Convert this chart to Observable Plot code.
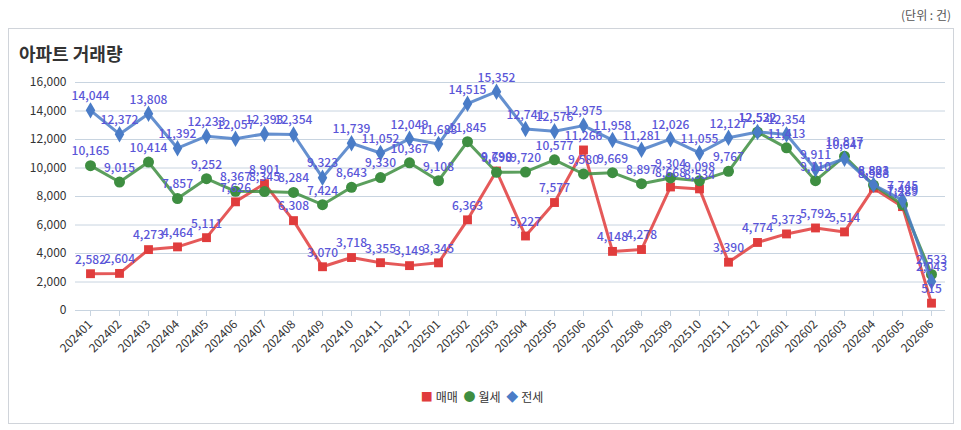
<!DOCTYPE html>
<html><head><meta charset="utf-8">
<script src="https://cdn.jsdelivr.net/npm/d3@7"></script>
<script src="https://cdn.jsdelivr.net/npm/@observablehq/plot@0.6"></script>
<style>
body{margin:0;font-family:"Noto Sans CJK KR","Noto Sans",sans-serif;background:#fff;}
#unit{position:absolute;right:10px;top:6px;font-size:12px;color:#555;}
#box{position:absolute;left:8px;top:28px;width:944px;height:394px;border:1px solid #d0d4da;}
#title{position:absolute;left:19px;top:40px;font-size:18px;font-weight:bold;color:#333;}
#chart{position:absolute;left:0;top:60px;}
#legend{position:absolute;top:388px;left:0;width:961px;text-align:center;font-size:12px;color:#333;}
#legend span{margin:0 3px;}
</style></head><body>
<div id="unit">(단위 : 건)</div>
<div id="box"></div>
<div id="title">아파트 거래량</div>
<div id="chart"></div>
<div id="legend"><span style="color:#e03c3c">■</span>매매 <span style="color:#3e8e41">●</span>월세 <span style="color:#4a7cc7">◆</span>전세</div>
<script>
const months=["202401","202402","202403","202404","202405","202406","202407","202408","202409","202410","202411","202412","202501","202502","202503","202504","202505","202506","202507","202508","202509","202510","202511","202512","202601","202602","202603","202604","202605","202606"];
const sale=[2582,2604,4273,4464,5111,7626,8901,6308,3070,3718,3355,3149,3345,6363,9790,5227,7577,11266,4148,4278,8668,8534,3390,4774,5373,5792,5514,8588,7289,515];
const monthly=[10165,9015,10414,7857,9252,8367,8345,8284,7424,8643,9330,10367,9108,11845,9698,9720,10577,9580,9669,8897,9304,9098,9767,12522,11413,9110,10817,8801,7429,2533];
const jeonse=[14044,12372,13808,11392,12233,12057,12393,12354,9323,11739,11052,12049,11683,14515,15352,12741,12576,12975,11958,11281,12026,11055,12127,12532,12354,9911,10647,8823,7745,2043];
const series=[
 {name:"매매",vals:sale,color:"#e03c3c",symbol:"square",r:5},
 {name:"월세",vals:monthly,color:"#3e8e41",symbol:"circle",r:5.5},
 {name:"전세",vals:jeonse,color:"#4a7cc7",symbol:"diamond",r:5}
];
const marks=[Plot.gridY({stroke:"#c8d4e0",strokeOpacity:1,ticks:d3.range(0,16001,2000)})];
for(const s of series){
  const d=months.map((m,i)=>({m,v:s.vals[i]}));
  marks.push(Plot.line(d,{x:"m",y:"v",stroke:s.color,strokeWidth:3,strokeOpacity:0.85}));
  marks.push(Plot.dot(d,{x:"m",y:"v",fill:s.color,symbol:s.symbol,r:s.r}));
}
for(const s of series){
  const d=months.map((m,i)=>({m,v:s.vals[i]}));
  marks.push(Plot.text(d,{x:"m",y:"v",text:d=>d.v.toLocaleString("en-US"),dy:-14,fill:"#5a56d8",fontSize:12,fontWeight:500}));
}
marks.push(Plot.axisY({ticks:d3.range(0,16001,2000),tickFormat:d=>d.toLocaleString("en-US"),tickSize:0,fontSize:12,label:null,color:"#333"}));
marks.push(Plot.axisX({tickRotate:-45,tickSize:6,fontSize:12,label:null,color:"#333",stroke:"#c8d4e0"}));
marks.push(Plot.ruleY([0],{stroke:"#c8d4e0"}));
const p=Plot.plot({width:961,height:300,marginTop:22,marginBottom:50,marginLeft:75,marginRight:16,
 x:{type:"point",domain:months,padding:0.45},
 y:{domain:[0,16000]},
 style:{fontFamily:"'Noto Sans CJK KR','Noto Sans',sans-serif",fontSize:"12px",background:"transparent"},
 marks});
document.getElementById("chart").append(p);
</script></body></html>
